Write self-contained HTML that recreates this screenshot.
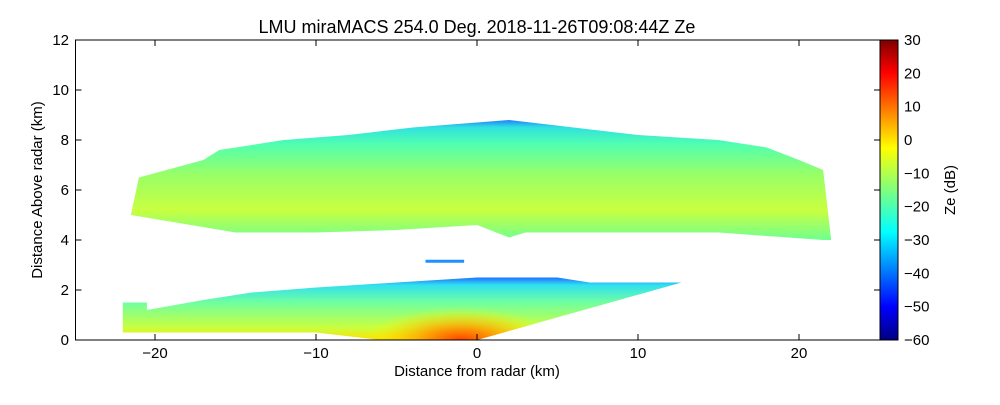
<!DOCTYPE html>
<html><head><meta charset="utf-8"><style>
body{margin:0;background:#fff;}
svg{font-family:"Liberation Sans","DejaVu Sans",sans-serif;}
</style></head><body>
<svg id="chart" width="1000" height="400" xmlns="http://www.w3.org/2000/svg">
<defs>
<linearGradient id="jet" x1="0" y1="1" x2="0" y2="0">
<stop offset="0" stop-color="#00007f"/><stop offset="0.11" stop-color="#0000ff"/><stop offset="0.36" stop-color="#00ffff"/><stop offset="0.5" stop-color="#7fff7f"/><stop offset="0.64" stop-color="#ffff00"/><stop offset="0.89" stop-color="#ff0000"/><stop offset="1" stop-color="#7f0000"/>
</linearGradient>
<linearGradient id="upperG" x1="0" y1="0" x2="0" y2="1">
<stop offset="0" stop-color="#1e80ff"/><stop offset="0.06" stop-color="#30e0e0"/><stop offset="0.2" stop-color="#50ffb0"/><stop offset="0.45" stop-color="#98ff68"/><stop offset="0.75" stop-color="#c8ff40"/><stop offset="1" stop-color="#70ff90"/>
</linearGradient>
<linearGradient id="lowerG" x1="0" y1="0" x2="0" y2="1">
<stop offset="0" stop-color="#2070ff"/><stop offset="0.12" stop-color="#30e0f0"/><stop offset="0.4" stop-color="#70ffa0"/><stop offset="0.8" stop-color="#c8ff40"/><stop offset="1" stop-color="#ffe000"/>
</linearGradient>
<radialGradient id="hot" cx="0.5" cy="0.5" r="0.5">
<stop offset="0" stop-color="#ff4000"/><stop offset="0.35" stop-color="#ff9000" stop-opacity="0.9"/><stop offset="0.7" stop-color="#ffd000" stop-opacity="0.5"/><stop offset="1" stop-color="#ffff00" stop-opacity="0"/>
</radialGradient>
<clipPath id="lowerClip"><polygon id="lowerClipPoly" points="0,0"/></clipPath>
</defs>
<text x="477" y="33" text-anchor="middle" font-size="18">LMU miraMACS 254.0 Deg. 2018-11-26T09:08:44Z  Ze</text>
<g id="marks"></g>
<rect x="75.5" y="40" width="804.5" height="300" fill="none" stroke="#000"/>
<g id="axes"></g>
<rect x="880" y="40" width="18" height="300" fill="url(#jet)" stroke="#000"/>
<text x="955" y="190" font-size="15" text-anchor="middle" transform="rotate(-90 955 190)">Ze (dB)</text>
<text x="477" y="376" font-size="15" text-anchor="middle">Distance from radar (km)</text>
<text x="42" y="190" font-size="15" text-anchor="middle" transform="rotate(-90 42 190)">Distance Above radar  (km)</text>
</svg>
<script>
const xTicks=[-20,-10,0,10,20];
const yTicks=[0,2,4,6,8,10,12];
const cbTicks=[-60,-50,-40,-30,-20,-10,0,10,20,30];
const upperX=[-21.5,-21,-17,-16,-12,-8,-4,2,6,10,15,18,20,21.5,22,21.5,15,8,3,2,0,-5,-10,-15,-21.5];
const upperY=[5.0,6.5,7.2,7.6,8.0,8.2,8.5,8.8,8.5,8.2,8.0,7.7,7.2,6.8,4.0,4.0,4.3,4.3,4.3,4.1,4.6,4.4,4.3,4.3,5.0];
const lowerX=[-22,-22,-20.5,-20.5,-17,-14,-10,-5,0,5,7,12.7,0,-6,-10,-22];
const lowerY=[0.3,1.5,1.5,1.2,1.6,1.9,2.1,2.3,2.5,2.5,2.3,2.3,0,0,0.3,0.3];
const blobX=[-3.2,-0.8];const blobY=[3.15];
const hotX=[-7,5];const hotY=[0,1.3];
const xs=v=>477+v*16.1, ys=v=>340-v*25, cs=v=>340-(v+60)/90*300;
const NS="http://www.w3.org/2000/svg";
const m=document.getElementById('marks'), a=document.getElementById('axes');
const ptsOf=(X,Y)=>X.map((x,i)=>xs(x)+','+ys(Y[i])).join(' ');
function poly(X,Y,fill,name){const p=document.createElementNS(NS,'polygon');
p.setAttribute('points',ptsOf(X,Y));p.setAttribute('fill',fill);


m.appendChild(p);}
poly(upperX,upperY,'url(#upperG)','upper-cloud-echo');
poly(lowerX,lowerY,'url(#lowerG)','lower-cloud-echo');
document.getElementById('lowerClipPoly').setAttribute('points',ptsOf(lowerX,lowerY));
const h=document.createElementNS(NS,'ellipse');
h.setAttribute('cx',xs((hotX[0]+hotX[1])/2));h.setAttribute('cy',ys(0));
h.setAttribute('rx',(xs(hotX[1])-xs(hotX[0]))/2);h.setAttribute('ry',ys(0)-ys(hotY[1]));
h.setAttribute('fill','url(#hot)');h.setAttribute('clip-path','url(#lowerClip)');


m.appendChild(h);
const b=document.createElementNS(NS,'rect');
b.setAttribute('x',xs(blobX[0]));b.setAttribute('y',ys(blobY[0])-1.5);b.setAttribute('width',xs(blobX[1])-xs(blobX[0]));b.setAttribute('height',3);b.setAttribute('fill','#1e90ff');


m.appendChild(b);
function line(x1,y1,x2,y2){const l=document.createElementNS(NS,'line');l.setAttribute('x1',x1);l.setAttribute('y1',y1);l.setAttribute('x2',x2);l.setAttribute('y2',y2);l.setAttribute('stroke','#000');


a.appendChild(l);}
function txt(x,y,s,anc,name){const t=document.createElementNS(NS,'text');t.setAttribute('x',x);t.setAttribute('y',y);t.setAttribute('font-size','15');t.setAttribute('text-anchor',anc);t.textContent=s;


a.appendChild(t);}
xTicks.forEach(v=>{const x=xs(v);line(x,340,x,334);line(x,40,x,46);txt(x,358,v<0?'\u2212'+(-v):v,'middle','x-tick-label');});
yTicks.forEach(v=>{const y=ys(v);line(75.5,y,81.5,y);line(880,y,874,y);txt(69,y+5,v,'end','y-tick-label');});
cbTicks.forEach(v=>{const y=cs(v);line(880,y,884,y);line(898,y,894,y);txt(904,y+5,v<0?'\u2212'+(-v):v,'start','colorbar-tick-label');});
</script>
</body></html>
